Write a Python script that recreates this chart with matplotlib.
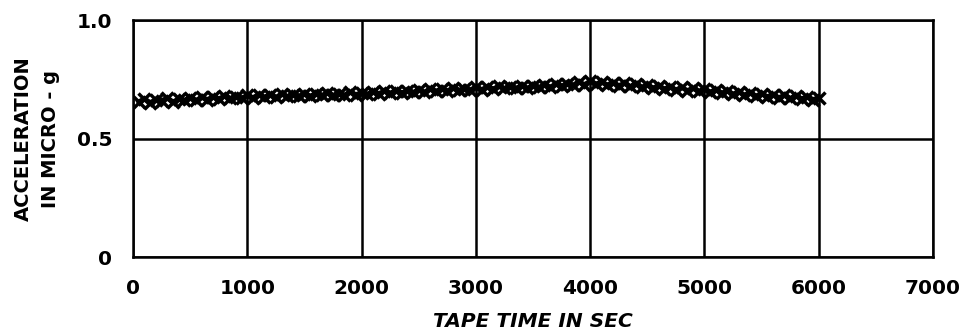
import matplotlib
matplotlib.use('Agg')
import matplotlib.pyplot as plt

# tape time (sec) and acceleration (micro-g)
tape_time = list(range(50, 6001, 50))
accel = [
    0.655, 0.668, 0.652, 0.664, 0.660, 0.671, 0.655, 0.667, 0.662, 0.672,
    0.661, 0.674, 0.665, 0.676, 0.668, 0.679, 0.670, 0.677, 0.671, 0.682,
    0.673, 0.686, 0.676, 0.683, 0.674, 0.688, 0.678, 0.685, 0.679, 0.690,
    0.680, 0.688, 0.682, 0.692, 0.683, 0.690, 0.684, 0.695, 0.686, 0.693,
    0.688, 0.698, 0.690, 0.700, 0.692, 0.702, 0.694, 0.699, 0.695, 0.705,
    0.697, 0.708, 0.700, 0.710, 0.702, 0.712, 0.704, 0.711, 0.706, 0.716,
    0.707, 0.718, 0.710, 0.720, 0.712, 0.719, 0.713, 0.722, 0.714, 0.721,
    0.716, 0.726, 0.718, 0.729, 0.722, 0.732, 0.725, 0.740, 0.728, 0.742,
    0.731, 0.738, 0.727, 0.736, 0.724, 0.733, 0.720, 0.730, 0.717, 0.727,
    0.714, 0.723, 0.710, 0.719, 0.706, 0.716, 0.703, 0.712, 0.700, 0.710,
    0.697, 0.706, 0.692, 0.702, 0.688, 0.698, 0.684, 0.694, 0.680, 0.690,
    0.677, 0.686, 0.673, 0.682, 0.670, 0.680, 0.668, 0.677, 0.665, 0.672,
]
x_ticks = [0, 1000, 2000, 3000, 4000, 5000, 6000, 7000]
y_ticks = [0, 0.5, 1.0]
y_tick_labels = ['0', '0.5', '1.0']

plt.rcParams['font.family'] = ['DejaVu Sans']
plt.rcParams['font.weight'] = 'bold'

fig = plt.figure(figsize=(9.75, 3.36), dpi=100)
ax = fig.add_axes([0.1364, 0.235, 0.8206, 0.705])

ax.plot(tape_time, accel, color='k', lw=3.5, marker='x', ms=9, mew=2.5, zorder=3)

ax.set_xlim(0, 7000)
ax.set_ylim(0, 1.0)
ax.set_xticks(x_ticks)
ax.set_yticks(y_ticks)
ax.set_yticklabels(y_tick_labels)
ax.grid(True, color='k', lw=1.8)
ax.tick_params(length=0, labelsize=14.5)
ax.tick_params(axis='x', pad=16)
ax.tick_params(axis='y', pad=15)
for sp in ax.spines.values():
    sp.set_linewidth(1.8)

ax.set_xlabel('TAPE TIME IN SEC', fontsize=14.5, fontweight='bold', style='italic', labelpad=10)
ax.set_ylabel('ACCELERATION\nIN MICRO - g', fontsize=14, fontweight='bold', labelpad=12,
              linespacing=1.55)

fig.savefig('out.png', dpi=100)
